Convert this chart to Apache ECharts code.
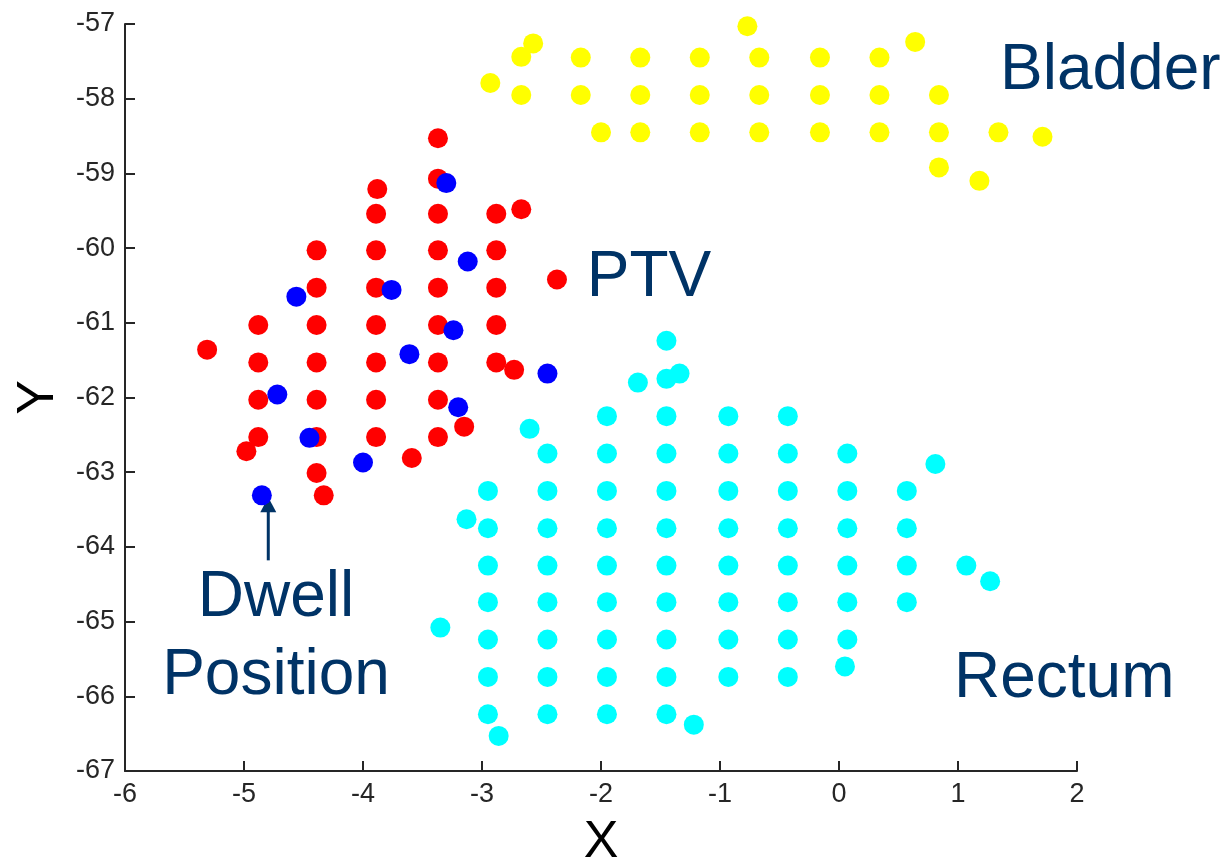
<!DOCTYPE html>
<html>
<head>
<meta charset="utf-8">
<title>Dwell positions, PTV, bladder and rectum</title>
<script src="https://cdn.jsdelivr.net/npm/echarts@6/dist/echarts.min.js"></script>
<style>
  html, body { margin: 0; padding: 0; background: #ffffff; }
  #chart { width: 1224px; height: 862px; }
</style>
</head>
<body>
<div id="chart"></div>
<script>
// Axis ranges and tick labels
const xTicks = [-6, -5, -4, -3, -2, -1, 0, 1, 2];
const yTicks = [-67, -66, -65, -64, -63, -62, -61, -60, -59, -58, -57];

// Bladder contour points (x, y)
const bladder = [
  [-2.93, -57.79], [-2.57, -57.26], [-2.67, -57.44], [-0.77, -57.03], [0.64, -57.24],
  [-2.17, -57.45], [-1.67, -57.45], [-1.17, -57.45], [-0.67, -57.45], [-0.16, -57.45], [0.34, -57.45],
  [-2.67, -57.95], [-2.17, -57.95], [-1.67, -57.95], [-1.17, -57.95], [-0.67, -57.95], [-0.16, -57.95], [0.34, -57.95], [0.84, -57.95],
  [-2.00, -58.45], [-1.67, -58.45], [-1.17, -58.45], [-0.67, -58.45], [-0.16, -58.45], [0.34, -58.45], [0.84, -58.45], [1.34, -58.45],
  [1.71, -58.51], [0.84, -58.92], [1.18, -59.10]
];

// PTV points
const ptv = [
  [-4.88, -61.03], [-4.88, -61.53], [-4.88, -62.03], [-4.88, -62.53],
  [-5.31, -61.36], [-4.98, -62.72],
  [-4.39, -60.03], [-4.39, -60.53], [-4.39, -61.03], [-4.39, -61.53], [-4.39, -62.03], [-4.39, -62.53], [-4.39, -63.01],
  [-4.33, -63.31],
  [-3.88, -59.21], [-3.89, -59.54], [-3.89, -60.03], [-3.89, -60.53], [-3.89, -61.03], [-3.89, -61.53], [-3.89, -62.03], [-3.89, -62.53],
  [-3.59, -62.81],
  [-3.37, -58.53], [-3.37, -59.07], [-3.37, -59.54], [-3.37, -60.03], [-3.37, -60.53], [-3.37, -61.03], [-3.37, -61.53], [-3.37, -62.03], [-3.37, -62.53],
  [-3.15, -62.39],
  [-2.88, -59.54], [-2.88, -60.03], [-2.88, -60.53], [-2.88, -61.03], [-2.88, -61.53],
  [-2.67, -59.48], [-2.37, -60.42], [-2.73, -61.63]
];

// Catheter dwell positions
const dwell = [
  [-3.30, -59.13], [-3.12, -60.18], [-3.76, -60.56], [-4.56, -60.65], [-3.24, -61.10], [-3.61, -61.42],
  [-2.45, -61.68], [-4.72, -61.96], [-3.20, -62.13], [-4.45, -62.54], [-4.00, -62.87], [-4.85, -63.31]
];

// Rectum contour points
const rectum = [
  [-2.95, -63.25], [-2.95, -63.75], [-2.95, -64.25], [-2.95, -64.74], [-2.95, -65.24], [-2.95, -65.74], [-2.95, -66.24],
  [-2.45, -62.75], [-2.45, -63.25], [-2.45, -63.75], [-2.45, -64.25], [-2.45, -64.74], [-2.45, -65.24], [-2.45, -65.74], [-2.45, -66.24],
  [-1.95, -62.25], [-1.95, -62.75], [-1.95, -63.25], [-1.95, -63.75], [-1.95, -64.25], [-1.95, -64.74], [-1.95, -65.24], [-1.95, -65.74], [-1.95, -66.24],
  [-1.45, -62.25], [-1.45, -62.75], [-1.45, -63.25], [-1.45, -63.75], [-1.45, -64.25], [-1.45, -64.74], [-1.45, -65.24], [-1.45, -65.74], [-1.45, -66.24],
  [-0.93, -62.25], [-0.93, -62.75], [-0.93, -63.25], [-0.93, -63.75], [-0.93, -64.25], [-0.93, -64.74], [-0.93, -65.24], [-0.93, -65.74],
  [-0.43, -62.25], [-0.43, -62.75], [-0.43, -63.25], [-0.43, -63.75], [-0.43, -64.25], [-0.43, -64.74], [-0.43, -65.24], [-0.43, -65.74],
  [0.07, -62.75], [0.07, -63.25], [0.07, -63.75], [0.07, -64.25], [0.07, -64.74], [0.07, -65.24], [0.05, -65.60],
  [0.57, -63.25], [0.57, -63.75], [0.57, -64.25], [0.57, -64.74],
  [-2.86, -66.53], [-1.45, -61.24], [-1.45, -61.75], [-1.34, -61.68], [-1.69, -61.80], [-1.22, -66.38],
  [0.81, -62.89], [1.07, -64.25], [1.27, -64.46], [-2.60, -62.42], [-3.13, -63.63], [-3.35, -65.08]
];

const FONT = '"Liberation Sans", Arial, Helvetica, sans-serif';
const AXIS_COLOR = '#262626';
const NOTE_COLOR = '#003366';

const chart = echarts.init(document.getElementById('chart'), null, { renderer: 'canvas' });

function axisCommon(ticks) {
  return {
    type: 'value',
    min: ticks[0],
    max: ticks[ticks.length - 1],
    interval: 1,
    axisLine: { show: true, onZero: false, lineStyle: { color: AXIS_COLOR, width: 2 } },
    axisTick: { show: true, inside: true, length: 10, lineStyle: { color: AXIS_COLOR, width: 2 } },
    splitLine: { show: false },
    axisLabel: { color: AXIS_COLOR, fontSize: 27, fontFamily: FONT, margin: 10 },
    nameLocation: 'middle',
    nameTextStyle: { color: '#000000', fontSize: 52, fontFamily: FONT }
  };
}

function scatter(name, data, color) {
  return {
    name: name,
    type: 'scatter',
    data: data,
    symbol: 'circle',
    symbolSize: 20,
    itemStyle: { color: color, opacity: 1 },
    emphasis: { disabled: true }
  };
}

chart.setOption({
  animation: false,
  backgroundColor: '#ffffff',
  grid: { left: 125, right: 147, top: 24, bottom: 91, containLabel: false, outerBoundsMode: 'none' },
  xAxis: Object.assign(axisCommon(xTicks), { name: 'X', nameGap: 46 }),
  yAxis: Object.assign(axisCommon(yTicks), { name: 'Y', nameGap: 60 }),
  series: [
    scatter('Bladder', bladder, '#FFFF00'),
    scatter('Rectum', rectum, '#00FFFF'),
    scatter('PTV', ptv, '#FF0000'),
    scatter('Dwell Position', dwell, '#0000FF')
  ]
});

// Annotations are anchored in data units so they follow the axes
function px(x, y) { return chart.convertToPixel({ gridIndex: 0 }, [x, y]); }

function note(text, x, y, align) {
  const p = px(x, y);
  return {
    type: 'text',
    x: p[0], y: p[1] + 5,
    silent: true,
    style: {
      text: text,
      fill: NOTE_COLOR,
      font: '64px ' + FONT,
      align: align,
      verticalAlign: 'middle'
    }
  };
}

const tip = px(-4.796, -63.335);
const tail = px(-4.796, -64.18);
const headLen = 15, headHalf = 8;

chart.setOption({
  graphic: [
    note('Bladder', 1.353, -57.57, 'left'),
    note('PTV', -2.12, -60.34, 'left'),
    note('Rectum', 0.966, -65.70, 'left'),
    note('Dwell', -4.731, -64.62, 'center'),
    note('Position', -4.731, -65.66, 'center'),
    {
      type: 'line', silent: true,
      shape: { x1: tip[0], y1: tip[1] + headLen - 1, x2: tail[0], y2: tail[1] },
      style: { stroke: NOTE_COLOR, lineWidth: 3 }
    },
    {
      type: 'polygon', silent: true,
      shape: { points: [[tip[0], tip[1]], [tip[0] - headHalf, tip[1] + headLen], [tip[0] + headHalf, tip[1] + headLen]] },
      style: { fill: NOTE_COLOR }
    }
  ]
});
</script>
</body>
</html>
